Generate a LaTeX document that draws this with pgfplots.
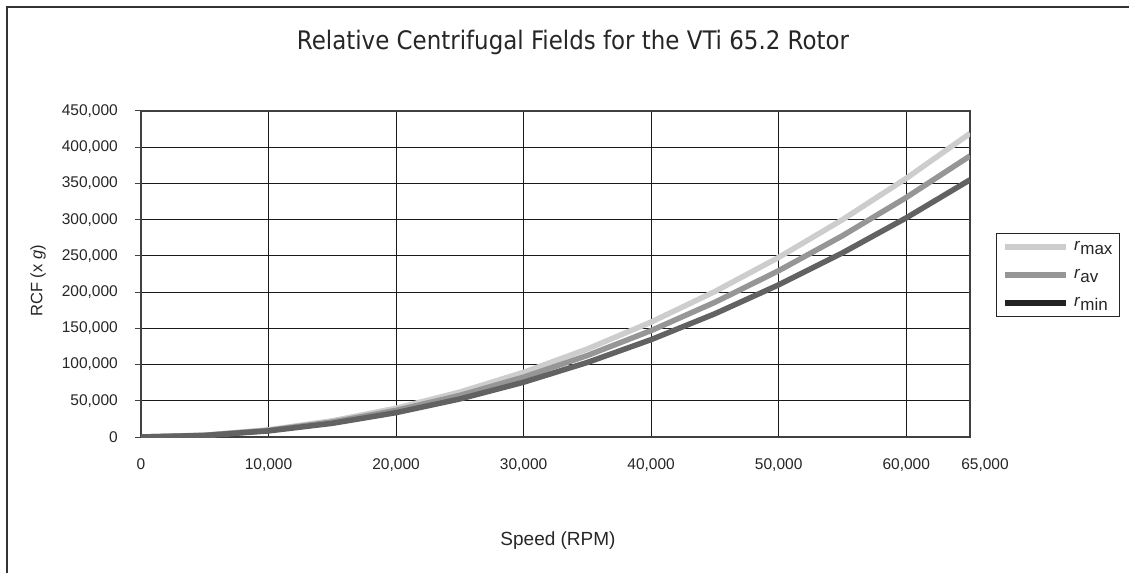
\documentclass[border=0pt]{standalone}
\usepackage{fontspec}
\setmainfont{Liberation Sans}
\newfontfamily\titlefont{DejaVu Sans Condensed}
\usepackage{pgfplots}
\pgfplotsset{compat=1.18}
\definecolor{cmax}{RGB}{205,205,205}
\definecolor{cav}{RGB}{150,150,150}
\definecolor{cmin}{RGB}{98,98,98}
\definecolor{cminleg}{RGB}{35,35,35}
\begin{document}
\begin{tikzpicture}[x=1pt,y=1pt]
\useasboundingbox (0,0) rectangle (1129,573);
\draw[line width=2pt, black!80] (7,0) -- (7,566) -- (1129,566);
\node[font=\titlefont\fontsize{25.5}{30}\selectfont, text=black!85] at (573,531) {Relative Centrifugal Fields for the VTi 65.2 Rotor};
\node[font=\fontsize{19}{22}\selectfont, text=black!85] at (558,32) {Speed (RPM)};
\node[font=\fontsize{16.5}{20}\selectfont, text=black!85, rotate=90] at (38,292) {RCF (x \textit{g})};
\begin{axis}[
  at={(141pt,136pt)}, anchor=south west,
  scale only axis, width=829pt, height=326pt,
  xmin=0, xmax=65000, ymin=0, ymax=450000,
  xtick={0,10000,20000,30000,40000,50000,60000},
  extra x ticks={65000},
  extra x tick style={grid=none, xticklabel style={xshift=15pt}},
  ytick={0,50000,100000,150000,200000,250000,300000,350000,400000,450000},
  /pgf/number format/.cd, fixed, precision=0, 1000 sep={,}, assume math mode=true,
  /pgfplots/.cd,
  scaled ticks=false,
  grid=major,
  major grid style={black!90, line width=0.9pt},
  axis line style={black!75, line width=1.2pt},
  x tick style={draw=none},
  y tick style={black!75, line width=1pt},
  ytick pos=left, xtick pos=bottom,
  tick align=outside, major tick length=6pt,
  tick label style={font=\fontsize{15.5}{18}\selectfont, text=black!85, inner sep=0pt},
  yticklabel style={xshift=-17pt},
  xticklabel style={yshift=-15pt},
  legend style={at={(axis description cs:1.0314,0.626)}, anchor=north west,
    draw=black!85, line width=1.2pt, inner xsep=6pt, inner ysep=7pt,
    row sep=15.5pt, column sep=4pt, font=\fontsize{17}{20}\selectfont,
    nodes={inner sep=1pt, text=black!85}},
  legend cell align=left,
  legend image code/.code={\draw[#1, line width=5.5pt] (0pt,0pt) -- (61pt,0pt);},
]
\addplot[cmax, line width=5.5pt, forget plot] coordinates {
 (0,0) (5000,2479) (10000,9917) (15000,22314) (20000,39669) (25000,61983)
 (30000,89256) (35000,121488) (40000,158679) (45000,200830) (50000,247929)
 (55000,299997) (60000,357018) (65000,419000)};
\addplot[cav, line width=5.5pt, forget plot] coordinates {
 (0,0) (5000,2296) (10000,9183) (15000,20662) (20000,36733) (25000,57394)
 (30000,82648) (35000,112492) (40000,146929) (45000,185956) (50000,229576)
 (55000,277787) (60000,330590) (65000,388000)};
\addplot[cmin, line width=5.5pt, forget plot] coordinates {
 (0,0) (5000,2101) (10000,8402) (15000,18905) (20000,33609) (25000,52515)
 (30000,75621) (35000,102929) (40000,134438) (45000,170148) (50000,210059)
 (55000,254172) (60000,302485) (65000,355000)};
\addlegendimage{cmax}
\addlegendentry{\textit{r}\raisebox{-4pt}{max}}
\addlegendimage{cav}
\addlegendentry{\textit{r}\raisebox{-4pt}{av}}
\addlegendimage{cminleg}
\addlegendentry{\textit{r}\raisebox{-4pt}{min}}
\end{axis}
\end{tikzpicture}
\end{document}
